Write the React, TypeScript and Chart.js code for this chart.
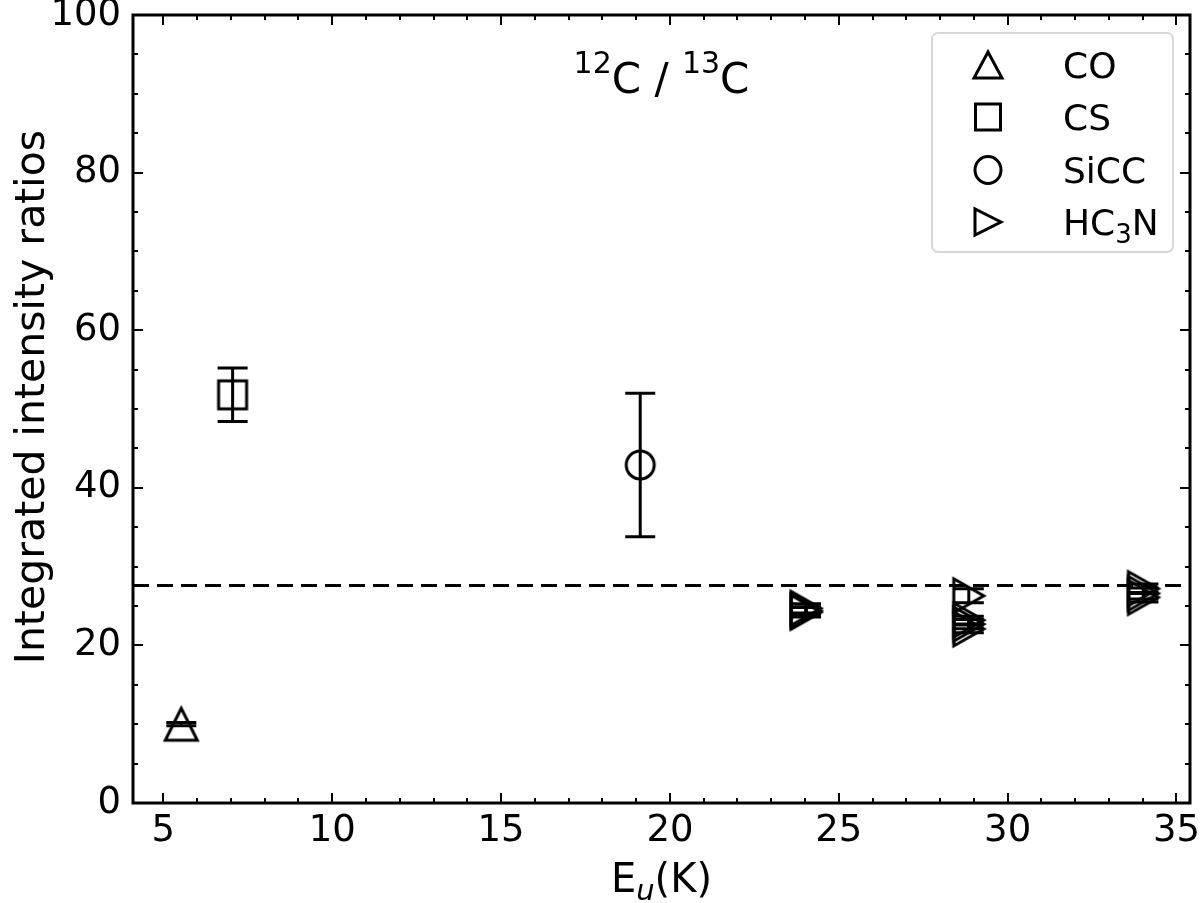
import React, { useEffect, useRef } from "react";
import { Chart, registerables } from "chart.js";

Chart.register(...registerables);

// ---- axis setup ----
const xMin = 4.1;
const xMax = 35.4;
const yMin = 0;
const yMax = 100;
const xTicks = [5, 10, 15, 20, 25, 30, 35];
const yTicks = [0, 20, 40, 60, 80, 100];
const xMinorStep = 1;
const yMinorStep = 5;

// ---- data ----
const seriesNames = ["CO", "CS", "SiCC", "HC3N"];
const coX = [5.53];
const coY = [10.0];
const coErr = [0.2];
const csX = [7.05];
const csY = [51.8];
const csErr = [3.4];
const siccX = [19.12];
const siccY = [42.9];
const siccErr = [9.1];
const hc3nX = [24.03, 24.03, 24.03, 28.85, 28.85, 28.85, 28.85, 34.02, 34.02, 34.02];
const hc3nY = [24.7, 24.4, 24.2, 26.3, 23.2, 22.7, 22.1, 27.2, 26.6, 26.1];
const hc3nErr = [0.6, 0.5, 0.6, 0.9, 0.5, 0.6, 0.5, 0.6, 0.7, 0.6];
const refLineY = 27.6;

const FONT = "'DejaVu Sans'";

function makeMarker(kind: string, hx: number, hy: number, lw: number) {
  const pad = Math.ceil(lw) + 2;
  const w = 2 * Math.ceil(hx) + 2 * pad;
  const h = 2 * Math.ceil(hy) + 2 * pad;
  const c = document.createElement("canvas");
  c.width = w;
  c.height = h;
  const ctx = c.getContext("2d")!;
  ctx.translate(w / 2, h / 2);
  ctx.strokeStyle = "#000";
  ctx.lineWidth = lw;
  ctx.lineJoin = "miter";
  ctx.beginPath();
  if (kind === "triUp") {
    ctx.moveTo(0, -hy);
    ctx.lineTo(-hx, hy);
    ctx.lineTo(hx, hy);
    ctx.closePath();
  } else if (kind === "triRight") {
    ctx.moveTo(hx, 0);
    ctx.lineTo(-hx, -hy);
    ctx.lineTo(-hx, hy);
    ctx.closePath();
  } else if (kind === "square") {
    ctx.rect(-hx, -hy, 2 * hx, 2 * hy);
  } else {
    ctx.ellipse(0, 0, hx, hy, 0, 0, Math.PI * 2);
  }
  ctx.stroke();
  return c;
}

function zip(xs: number[], ys: number[]) {
  return xs.map((x, i) => ({ x, y: ys[i] }));
}

export default function App() {
  const ref = useRef<HTMLCanvasElement | null>(null);

  useEffect(() => {
    document.body.style.margin = "0";
    const canvas = ref.current;
    if (!canvas) return;

    const mk = {
      co: makeMarker("triUp", 16, 16, 3),
      cs: makeMarker("square", 14, 14, 3),
      sicc: makeMarker("circle", 14, 14, 3),
      hc3n: makeMarker("triRight", 15, 17, 3),
    };
    const lg = [
      makeMarker("triUp", 14, 13, 3),
      makeMarker("square", 12.5, 13, 3),
      makeMarker("circle", 13, 13.5, 3),
      makeMarker("triRight", 13, 13, 3),
    ];

    const errorBars = {
      id: "errorBars",
      afterDatasetsDraw(chart: any) {
        const { ctx } = chart;
        const xs = chart.scales.x;
        const ys = chart.scales.y;
        ctx.save();
        ctx.strokeStyle = "#000";
        ctx.lineWidth = 3;
        chart.data.datasets.forEach((ds: any) => {
          if (!ds.errors) return;
          ds.data.forEach((p: any, j: number) => {
            const e = ds.errors[j];
            const px = xs.getPixelForValue(p.x);
            const top = ys.getPixelForValue(p.y + e);
            const bot = ys.getPixelForValue(p.y - e);
            const cap = 15;
            ctx.beginPath();
            ctx.moveTo(px, top);
            ctx.lineTo(px, bot);
            ctx.moveTo(px - cap, top);
            ctx.lineTo(px + cap, top);
            ctx.moveTo(px - cap, bot);
            ctx.lineTo(px + cap, bot);
            ctx.stroke();
          });
        });
        ctx.restore();
      },
    };

    const frame = {
      id: "frame",
      afterDraw(chart: any) {
        const { ctx, chartArea: a } = chart;
        const xs = chart.scales.x;
        const ys = chart.scales.y;
        ctx.save();
        ctx.strokeStyle = "#000";
        // ticks
        ctx.lineWidth = 2;
        ctx.beginPath();
        const majL = 10;
        const minL = 5;
        for (let v = Math.ceil(xMin); v <= xMax; v += xMinorStep) {
          const px = Math.round(xs.getPixelForValue(v)) + 0.0;
          const L = xTicks.includes(v) ? majL : minL;
          ctx.moveTo(px, a.bottom);
          ctx.lineTo(px, a.bottom - L);
          ctx.moveTo(px, a.top);
          ctx.lineTo(px, a.top + L);
        }
        for (let v = yMin; v <= yMax; v += yMinorStep) {
          const py = Math.round(ys.getPixelForValue(v));
          const L = yTicks.includes(v) ? majL : minL;
          ctx.moveTo(a.left, py);
          ctx.lineTo(a.left + L, py);
          ctx.moveTo(a.right, py);
          ctx.lineTo(a.right - L, py);
        }
        ctx.stroke();
        ctx.lineWidth = 3;
        ctx.strokeRect(a.left, a.top, a.right - a.left, a.bottom - a.top);

        // title 12C / 13C
        const cx = (a.left + a.right) / 2;
        const big = `42px ${FONT}`;
        const small = `30px ${FONT}`;
        const parts: [string, string, number][] = [
          ["12", small, -20],
          ["C / ", big, 0],
          ["13", small, -20],
          ["C", big, 0],
        ];
        let tw = 0;
        parts.forEach(([t, f]) => {
          ctx.font = f;
          tw += ctx.measureText(t).width;
        });
        let tx = cx - tw / 2;
        const tb = 93;
        ctx.fillStyle = "#000";
        ctx.textBaseline = "alphabetic";
        ctx.textAlign = "left";
        parts.forEach(([t, f, dy]) => {
          ctx.font = f;
          ctx.fillText(t, tx, tb + dy);
          tx += ctx.measureText(t).width;
        });

        // x label E_u(K)
        const xl: [string, string, number][] = [
          ["E", `40px ${FONT}`, 0],
          ["u", `italic 29px ${FONT}`, 8],
          ["(K)", `40px ${FONT}`, 0],
        ];
        let xw = 0;
        xl.forEach(([t, f]) => {
          ctx.font = f;
          xw += ctx.measureText(t).width;
        });
        let xx = cx - xw / 2;
        xl.forEach(([t, f, dy]) => {
          ctx.font = f;
          ctx.fillText(t, xx, 892 + dy);
          xx += ctx.measureText(t).width;
        });

        // y label
        ctx.save();
        ctx.translate(44, (a.top + a.bottom) / 2 - 12);
        ctx.rotate(-Math.PI / 2);
        ctx.font = `41px ${FONT}`;
        ctx.textAlign = "center";
        ctx.fillText("Integrated intensity ratios", 0, 0);
        ctx.restore();

        // legend
        const bx = a.right - 17 - 241;
        const by = a.top + 18;
        const bw = 241;
        const bh = 219;
        ctx.beginPath();
        (ctx as any).roundRect(bx, by, bw, bh, 6);
        ctx.fillStyle = "rgba(255,255,255,0.8)";
        ctx.fill();
        ctx.strokeStyle = "#d8d8d8";
        ctx.lineWidth = 2;
        ctx.stroke();
        ctx.fillStyle = "#000";
        const rows = [32, 84, 137, 189];
        seriesNames.forEach((name, i) => {
          const ry = by + rows[i];
          const m = lg[i];
          ctx.drawImage(m, bx + 56 - m.width / 2, ry - m.height / 2);
          const lx = bx + 131;
          const base = ry + 13;
          if (name === "HC3N") {
            ctx.font = `36px ${FONT}`;
            ctx.fillText("HC", lx, base);
            let w = ctx.measureText("HC").width;
            ctx.font = `26px ${FONT}`;
            ctx.fillText("3", lx + w, base + 8);
            w += ctx.measureText("3").width;
            ctx.font = `36px ${FONT}`;
            ctx.fillText("N", lx + w, base);
          } else {
            ctx.font = `36px ${FONT}`;
            ctx.fillText(name, lx, base);
          }
        });
        ctx.restore();
      },
    };

    const chart = new Chart(canvas, {
      type: "scatter",
      data: {
        datasets: [
          {
            type: "line",
            label: "ref",
            data: [
              { x: xMin, y: refLineY },
              { x: xMax, y: refLineY },
            ],
            borderColor: "#000",
            borderWidth: 3,
            borderDash: [16, 8],
            pointRadius: 0,
            showLine: true,
            fill: false,
          } as any,
          {
            label: seriesNames[0],
            data: zip(coX, coY),
            errors: coErr,
            pointStyle: mk.co,
          } as any,
          {
            label: seriesNames[1],
            data: zip(csX, csY),
            errors: csErr,
            pointStyle: mk.cs,
          } as any,
          {
            label: seriesNames[2],
            data: zip(siccX, siccY),
            errors: siccErr,
            pointStyle: mk.sicc,
          } as any,
          {
            label: seriesNames[3],
            data: zip(hc3nX, hc3nY),
            errors: hc3nErr,
            pointStyle: mk.hc3n,
          } as any,
        ],
      },
      options: {
        animation: false,
        responsive: false,
        maintainAspectRatio: false,
        layout: { padding: { left: 0, right: 10, top: 15, bottom: 0 } },
        plugins: { legend: { display: false }, tooltip: { enabled: false } },
        scales: {
          x: {
            type: "linear",
            min: xMin,
            max: xMax,
            afterBuildTicks: (s: any) => {
              s.ticks = xTicks.map((v) => ({ value: v }));
            },
            afterFit: (s: any) => {
              s.height = 100;
              s.paddingLeft = 0;
              s.paddingRight = 0;
            },
            grid: { display: false, drawTicks: false },
            border: { display: false },
            ticks: {
              color: "#000",
              font: { family: FONT, size: 37 },
              padding: 6,
              maxRotation: 0,
              autoSkip: false,
              callback: (v: any) => String(v),
            },
          },
          y: {
            type: "linear",
            min: yMin,
            max: yMax,
            afterBuildTicks: (s: any) => {
              s.ticks = yTicks.map((v) => ({ value: v }));
            },
            afterFit: (s: any) => {
              s.width = 133;
              s.paddingTop = 0;
              s.paddingBottom = 0;
            },
            grid: { display: false, drawTicks: false },
            border: { display: false },
            ticks: {
              color: "#000",
              font: { family: FONT, size: 37 },
              padding: 12,
              autoSkip: false,
              callback: (v: any) => String(v),
            },
          },
        },
      },
      plugins: [errorBars, frame],
    });

    return () => chart.destroy();
  }, []);

  return (
    <div style={{ width: 1200, height: 903 }}>
      <canvas ref={ref} width={1200} height={903} />
    </div>
  );
}
